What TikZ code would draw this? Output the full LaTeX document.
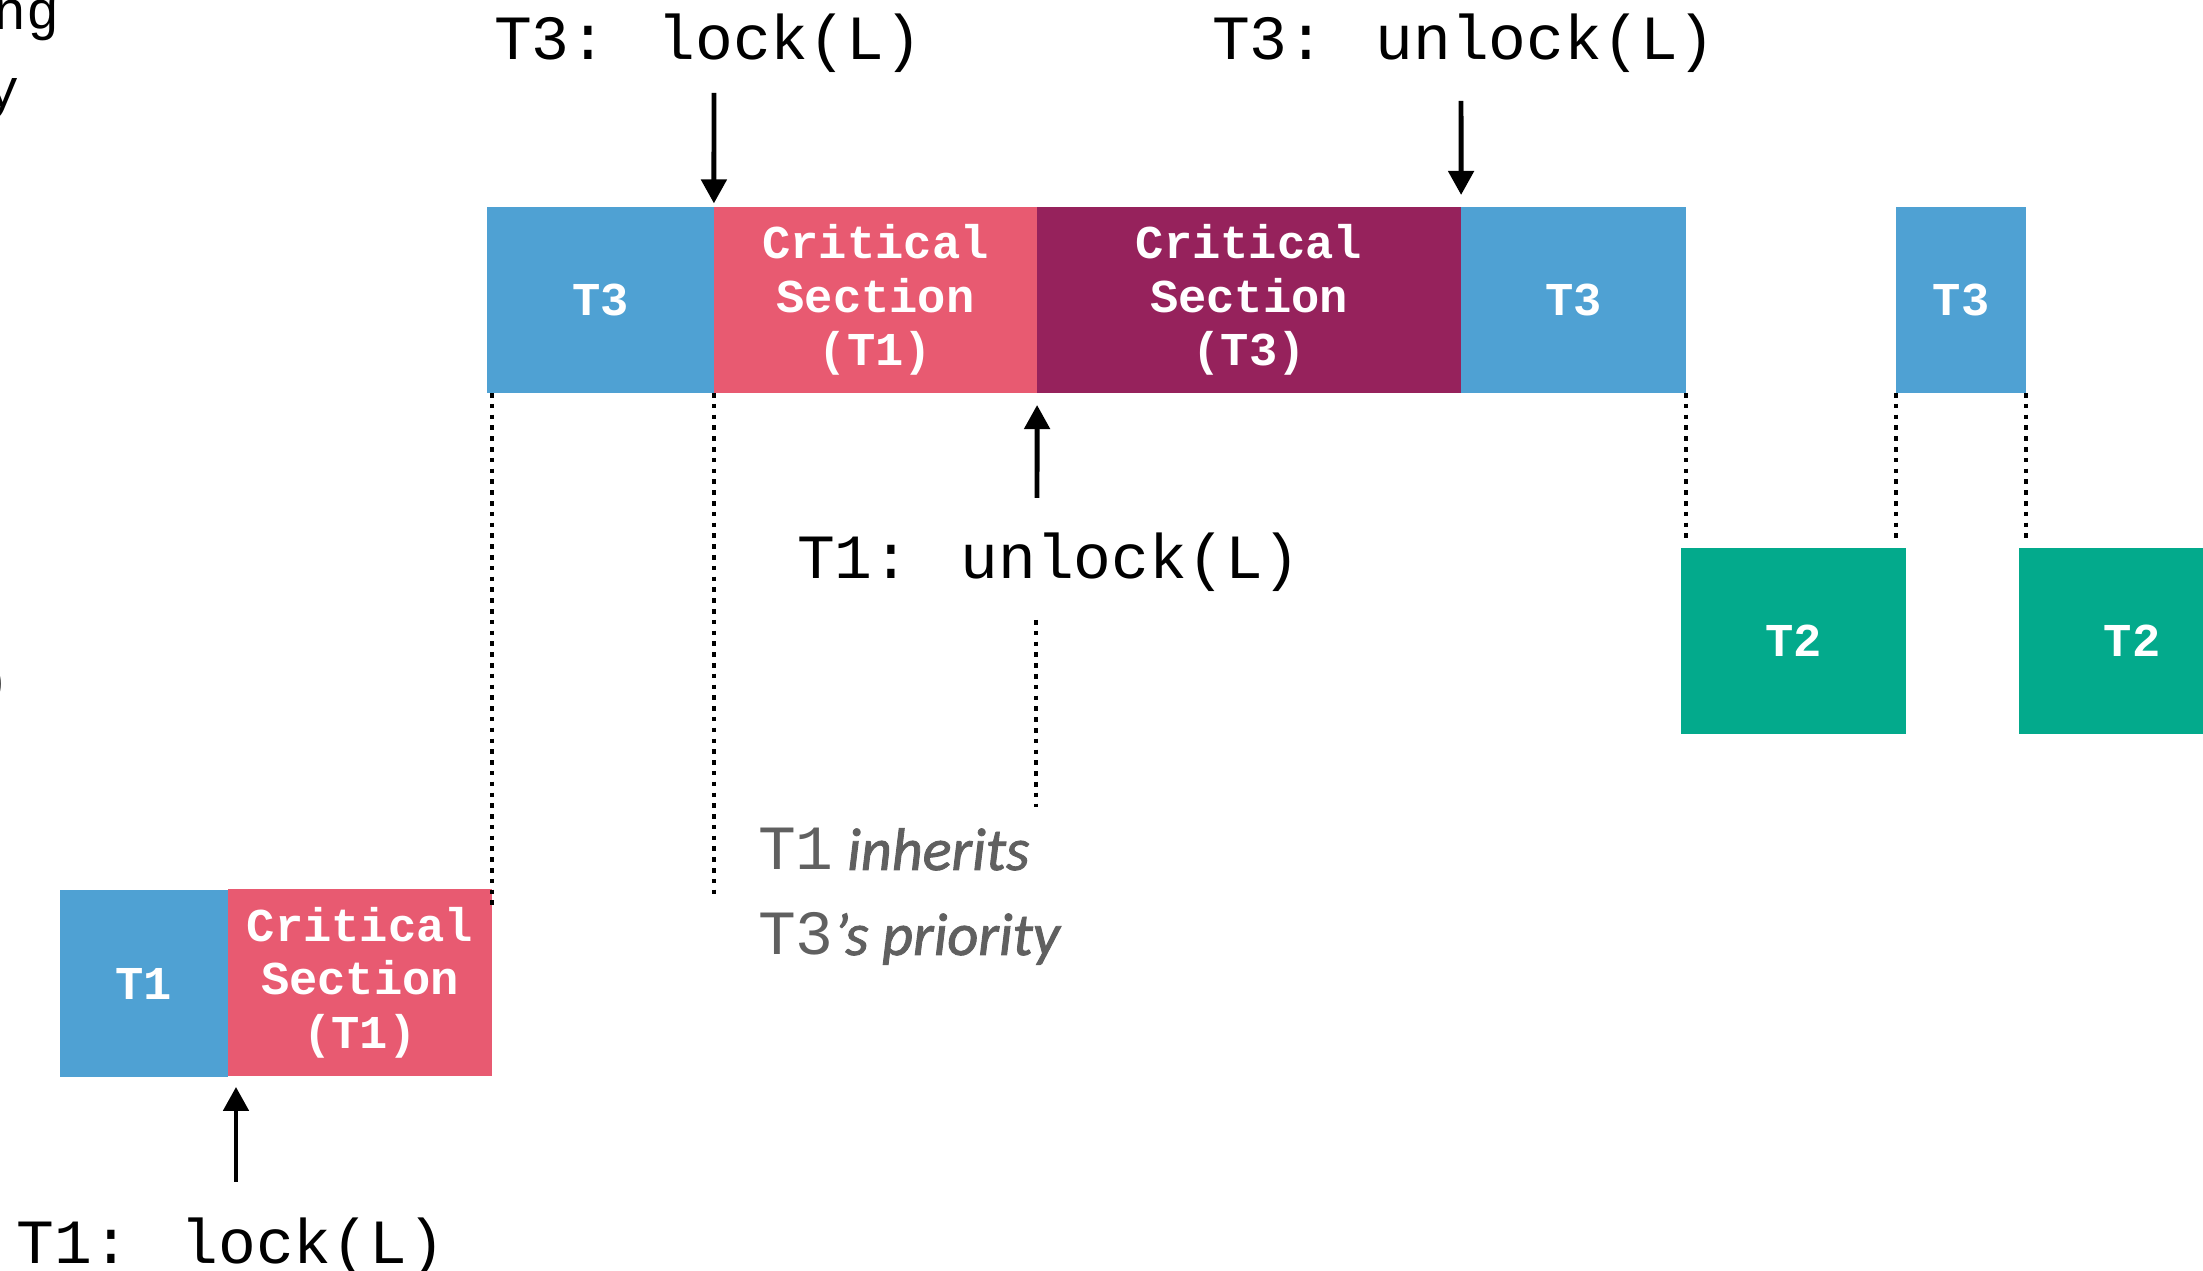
\documentclass[tikz,border=0pt]{standalone}
\usepackage{fontspec}
\setmainfont{Liberation Serif}
\newfontfamily\monof{Liberation Mono}
\newfontfamily\humanf[FakeBold=1.5]{Carlito}
\usetikzlibrary{arrows.meta,calc}
\definecolor{taskblue}{RGB}{79,161,211}
\definecolor{critred}{RGB}{232,90,113}
\definecolor{critpurple}{RGB}{150,34,92}
\definecolor{taskgreen}{RGB}{3,170,140}
\definecolor{notegray}{RGB}{96,96,96}
\newcommand{\notefont}{\humanf\itshape\fontsize{17.1}{20}\selectfont}

\begin{document}
\begin{tikzpicture}[x=0.01cm,y=-0.01cm,
  slot/.style={inner sep=0pt, outer sep=0pt, text=white, align=center,
    font=\monof\bfseries\fontsize{13.4}{15.2}\selectfont, minimum height=1.86cm},
  callout/.style={inner sep=0pt, outer sep=0pt, anchor=base west,
    font=\monof\fontsize{17.9}{20}\selectfont},
  guide/.style={line width=1.3pt, dash pattern=on 1.3pt off 1.77pt},
  event/.style={line width=1.4pt, -{Triangle[width=0.25cm,length=0.24cm]}},
]
\useasboundingbox (0,0) rectangle (2203,1271);
\clip (0,0) rectangle (2203,1271);

% high-priority row: T3 and the critical sections
\node[slot, fill=taskblue,   minimum width=2.27cm] (t3a) at (600.5,300)  {T3};
\node[slot, fill=critred,    minimum width=3.23cm] (cs1) at (875.5,300)  {Critical\\Section\\(T1)};
\node[slot, fill=critpurple, minimum width=4.24cm] (cs3) at (1249,300)   {Critical\\Section\\(T3)};
\node[slot, fill=taskblue,   minimum width=2.25cm] (t3b) at (1573.5,300) {T3};
\node[slot, fill=taskblue,   minimum width=1.30cm] (t3c) at (1961,300)   {T3};

% medium-priority row: T2
\node[slot, fill=taskgreen, minimum width=2.25cm] (t2a) at (1793.5,641) {T2};
\node[slot, fill=taskgreen, minimum width=2.26cm] (t2b) at (2132,641)   {T2};

% low-priority row: T1
\node[slot, fill=taskblue, minimum width=1.68cm, minimum height=1.87cm] (t1)   at (144,983.5) {T1};
\node[slot, fill=critred,  minimum width=2.64cm, minimum height=1.87cm] (cs1b) at (360,982.5) {Critical\\Section\\(T1)};

% event labels
\node[callout] (lk3)  at (494,60)    {T3: lock(L)};
\node[callout] (ulk3) at (1212,60)   {T3: unlock(L)};
\node[callout] (ulk1) at (797,579)   {T1: unlock(L)};
\node[callout] (lk1)  at (17,1263)   {T1: lock(L)};

% note on priority inheritance
\node[callout, text=notegray] (inh1) at (758,870) {T1{\notefont{} inherits}};
\node[callout, text=notegray] (inh2) at (758,955) {T3{\notefont ’s priority}};

% text running in from the left margin
\node[callout, anchor=base east, font=\monof\fontsize{15.6}{18}\selectfont] (fragA) at (59,30)  {ng};
\node[callout, anchor=base east, font=\monof\fontsize{15.6}{18}\selectfont] (fragB) at (19,108) {y};
\node[callout, anchor=base east, font=\monof\fontsize{15.6}{18}\selectfont] (fragC) at (10,699) {)};

% event arrows
\coordinate (lk3tail)  at (714,93);
\coordinate (ulk3tail) at (1461,101);
\coordinate (ulk1tail) at (1037,498);
\coordinate (lk1tail)  at (236,1182);
\draw[event, shorten >=1pt]   (lk3tail)  -- (cs1.north west);
\draw[event, shorten >=3.4pt] (ulk3tail) -- (cs3.north east);
\draw[event, shorten >=3.4pt] (ulk1tail) -- (cs1.south east);
\draw[event, shorten >=3.1pt] (lk1tail)  -- (lk1tail |- cs1b.south);

% dotted switch guides
\draw[guide] (cs1b.north east |- t3a.south) -- ($(cs1b.north east)+(0,17)$);
\draw[guide] (cs1.south west) -- ($(cs1.south west |- t1.north)+(0,4)$);
\coordinate (inhtop) at (1036,620);
\coordinate (inhbot) at (1036,807);
\draw[guide] (inhtop) -- (inhbot);
\draw[guide] (t3b.south east) -- ($(t3b.south east |- t2a.north)+(0,-4)$);
\draw[guide] (t3c.south west) -- ($(t3c.south west |- t2a.north)+(0,-4)$);
\draw[guide] (t3c.south east) -- ($(t3c.south east |- t2b.north)+(0,-4)$);
\end{tikzpicture}
\end{document}
